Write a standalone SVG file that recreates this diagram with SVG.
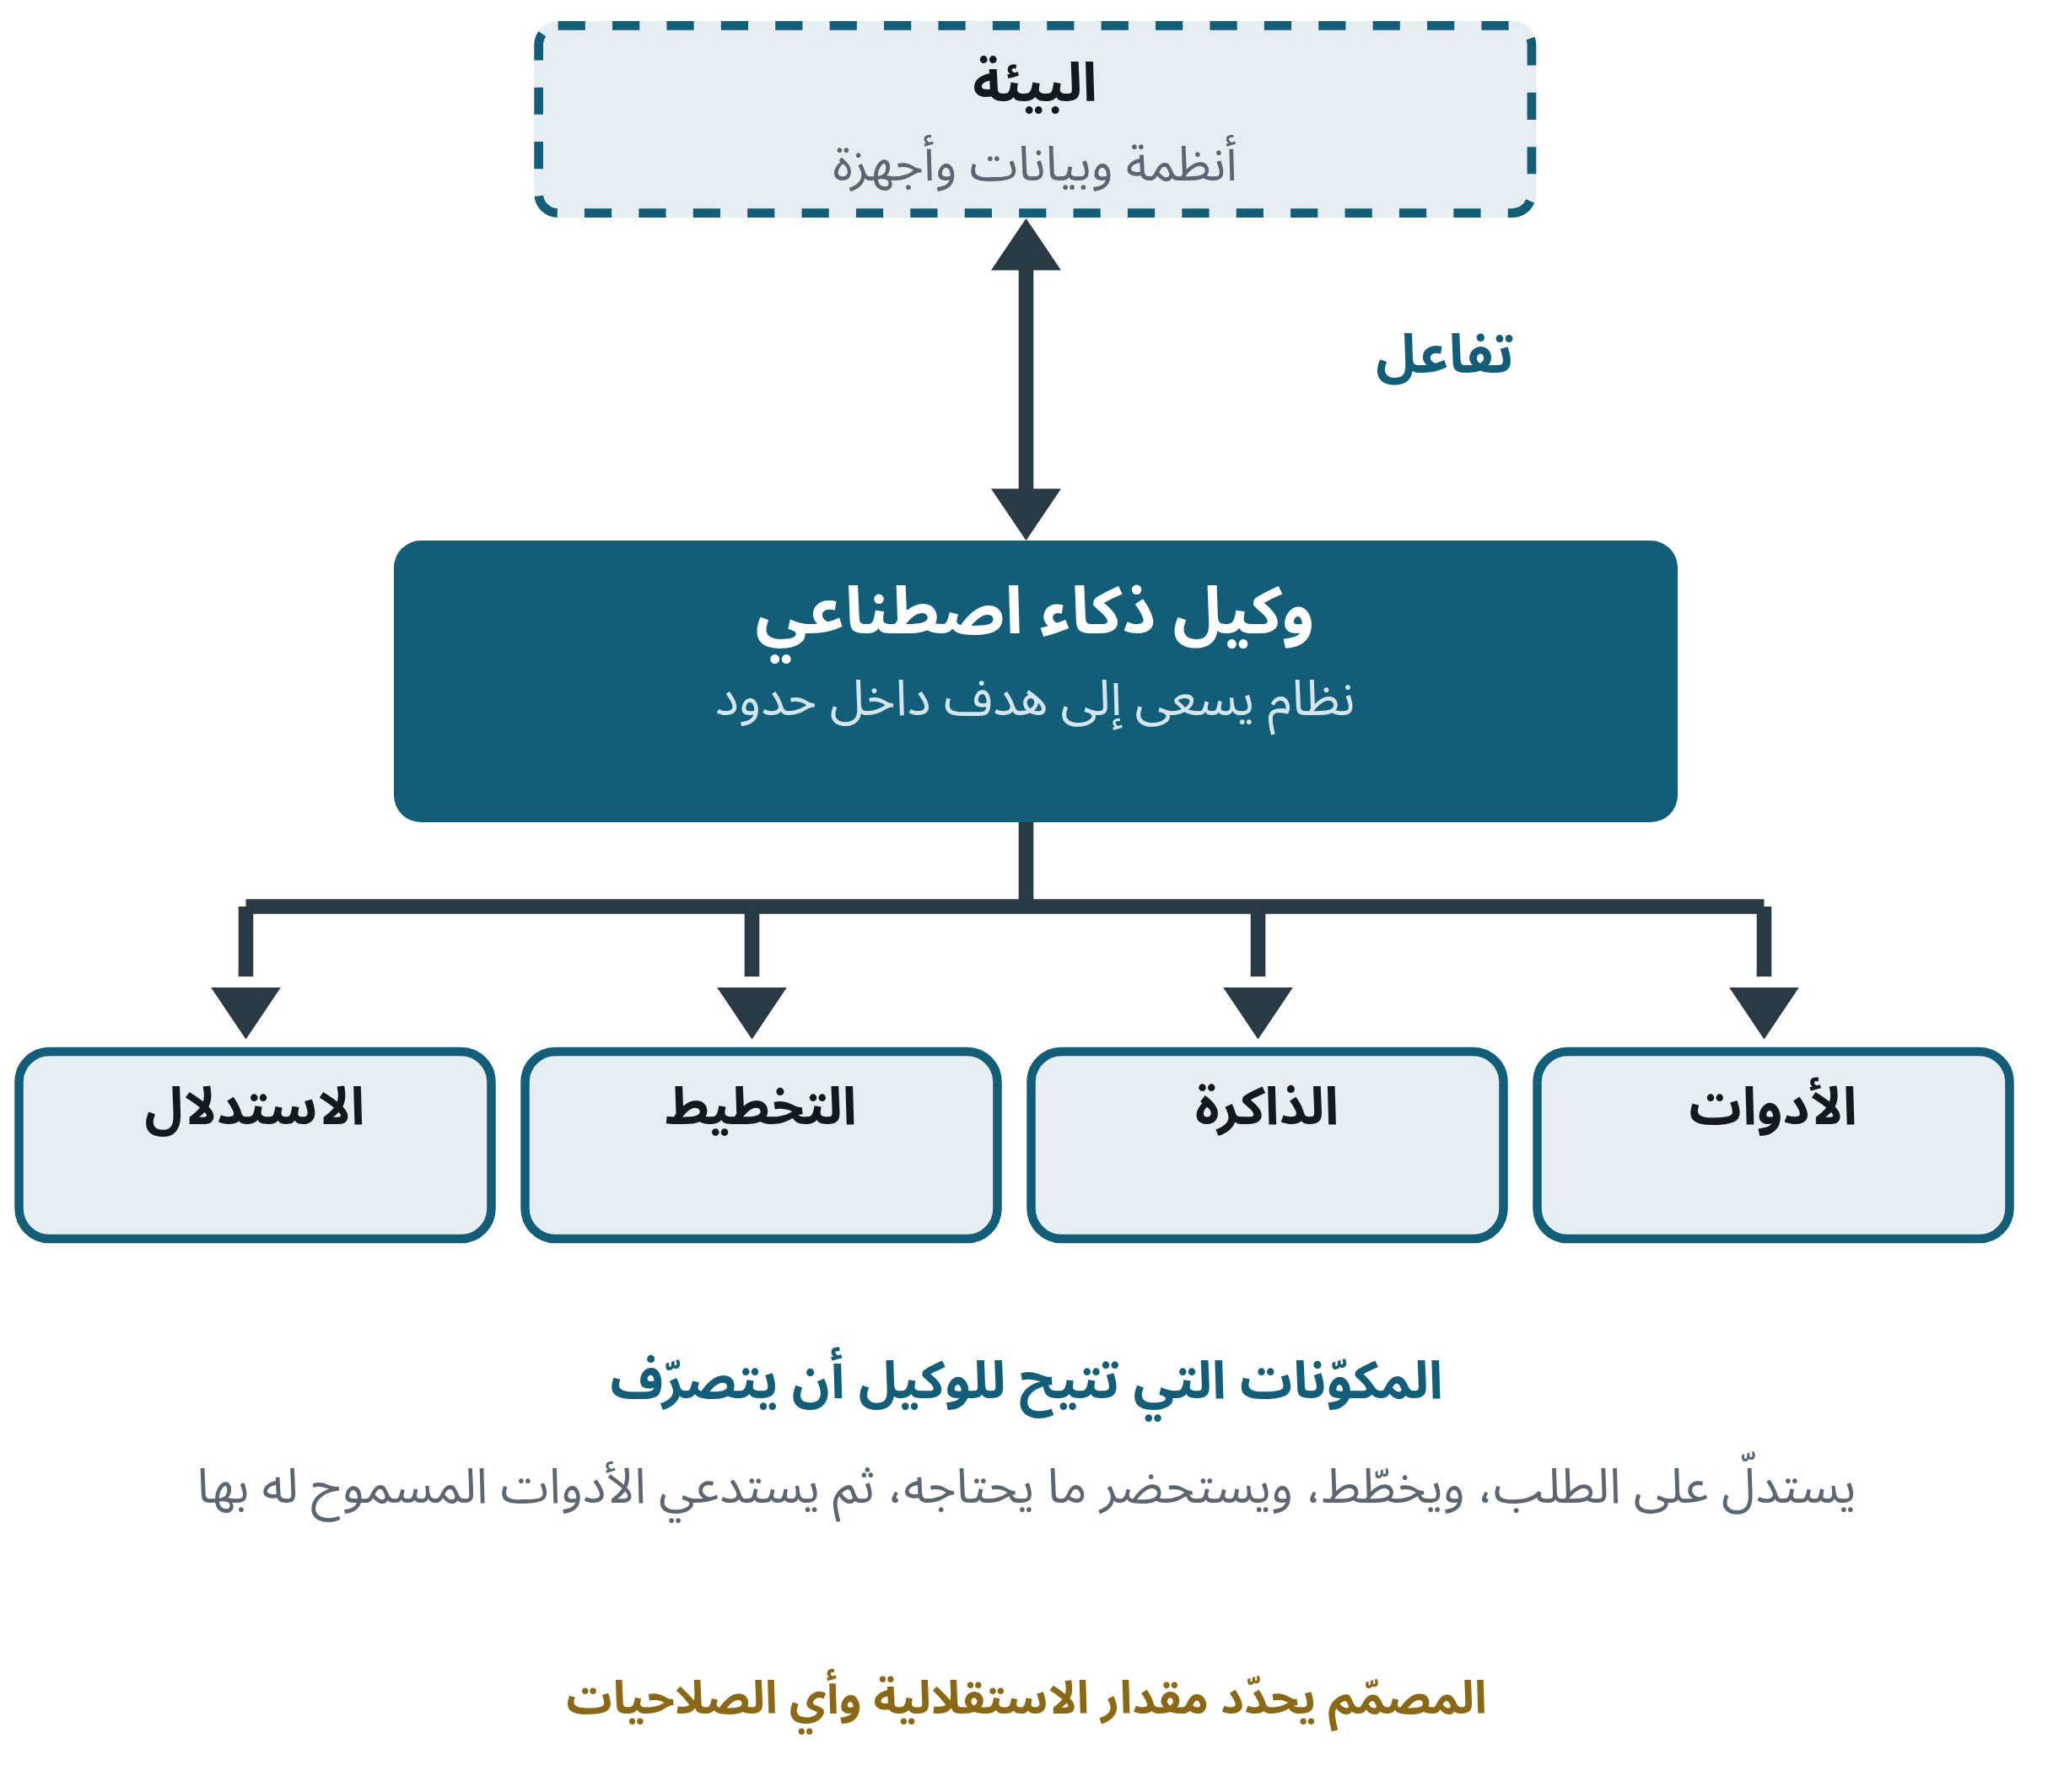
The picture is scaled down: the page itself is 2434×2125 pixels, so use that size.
<svg xmlns="http://www.w3.org/2000/svg" width="2434" height="2125" viewBox="0 0 2434 2125">
<style>
text{font-family:"Noto Sans Arabic","Noto Sans","DejaVu Sans",sans-serif;text-anchor:middle;direction:rtl}
.env-fill{fill:#E7EEF2}
.env{fill:none;stroke:#125E78;stroke-width:10.7;stroke-dasharray:32.2 32.2}
.agent{fill:#125E78}
.comp{fill:#E7EEF2;stroke:#125E78;stroke-width:10.5}
.ln{stroke:#2A3A44;stroke-width:17.6;fill:none;stroke-linecap:butt}
.hd{fill:#2A3A44}
.t-dark{fill:#111A1F;font-weight:700}
.t-gray{fill:#5B6672}
.t-white{fill:#FFFFFF;font-weight:700}
.t-light{fill:#D4E5EE}
.t-teal{fill:#125E78;font-weight:700}
.t-gold{fill:#8B6914;font-weight:700}
</style>
<rect width="2434" height="2125" fill="#FFFFFF"/>
<g id="connectors">
<line class="ln" x1="1216.5" y1="320" x2="1216.5" y2="580"/>
<polygon class="hd" points="1216.5,259 1258,320.5 1175,320.5"/>
<polygon class="hd" points="1216.5,641 1258,579.5 1175,579.5"/>
<line class="ln" x1="1216.5" y1="975" x2="1216.5" y2="1075"/>
<line class="ln" x1="291.5" y1="1075" x2="2091.5" y2="1075"/>
<line class="ln" x1="291.5" y1="1075" x2="291.5" y2="1158"/>
<line class="ln" x1="891.5" y1="1075" x2="891.5" y2="1158"/>
<line class="ln" x1="1491.5" y1="1075" x2="1491.5" y2="1158"/>
<line class="ln" x1="2091.5" y1="1075" x2="2091.5" y2="1158"/>
<polygon class="hd" points="250.2,1171 332.8,1171 291.5,1232.5"/>
<polygon class="hd" points="850.2,1171 932.8,1171 891.5,1232.5"/>
<polygon class="hd" points="1450.2,1171 1532.8,1171 1491.5,1232.5"/>
<polygon class="hd" points="2050.2,1171 2132.8,1171 2091.5,1232.5"/>
<text class="t-teal" x="1713" y="442" font-size="64">تفاعل</text>
</g>
<g id="environment">
<rect class="env-fill" x="633.3" y="25" width="1188" height="233" rx="28"/>
<rect class="env" x="638.65" y="30.35" width="1177.3" height="222.3" rx="23"/>
<text class="t-dark" x="1227" y="120" font-size="64">البيئة</text>
<text class="t-gray" x="1227" y="214" font-size="58">أنظمة وبيانات وأجهزة</text>
</g>
<g id="agent">
<rect class="agent" x="467" y="641" width="1522" height="334" rx="32"/>
<text class="t-white" x="1227" y="751" font-size="78">وكيل ذكاء اصطناعي</text>
<text class="t-light" x="1227" y="848" font-size="59">نظام يسعى إلى هدف داخل حدود</text>
</g>
<g id="reasoning">
<rect class="comp" x="22.5" y="1247" width="560" height="222" rx="36"/>
<text class="t-dark" x="302" y="1333" font-size="62">الاستدلال</text>
</g>
<g id="planning">
<rect class="comp" x="622.5" y="1247" width="560" height="222" rx="36"/>
<text class="t-dark" x="902" y="1333" font-size="62">التخطيط</text>
</g>
<g id="memory">
<rect class="comp" x="1222.5" y="1247" width="560" height="222" rx="36"/>
<text class="t-dark" x="1502" y="1333" font-size="62">الذاكرة</text>
</g>
<g id="tools">
<rect class="comp" x="1822.5" y="1247" width="560" height="222" rx="36"/>
<text class="t-dark" x="2102" y="1333" font-size="62">الأدوات</text>
</g>
<g id="caption">
<text class="t-teal" x="1217" y="1658" font-size="62">المكوّنات التي تتيح للوكيل أن يتصرّف</text>
<text class="t-gray" x="1217" y="1782" font-size="58">يستدلّ على الطلب، ويخطّط، ويستحضر ما يحتاجه، ثم يستدعي الأدوات المسموح له بها</text>
<text class="t-gold" x="1217" y="2032" font-size="54">المصمّم يحدّد مقدار الاستقلالية وأي الصلاحيات</text>
</g>
</svg>
